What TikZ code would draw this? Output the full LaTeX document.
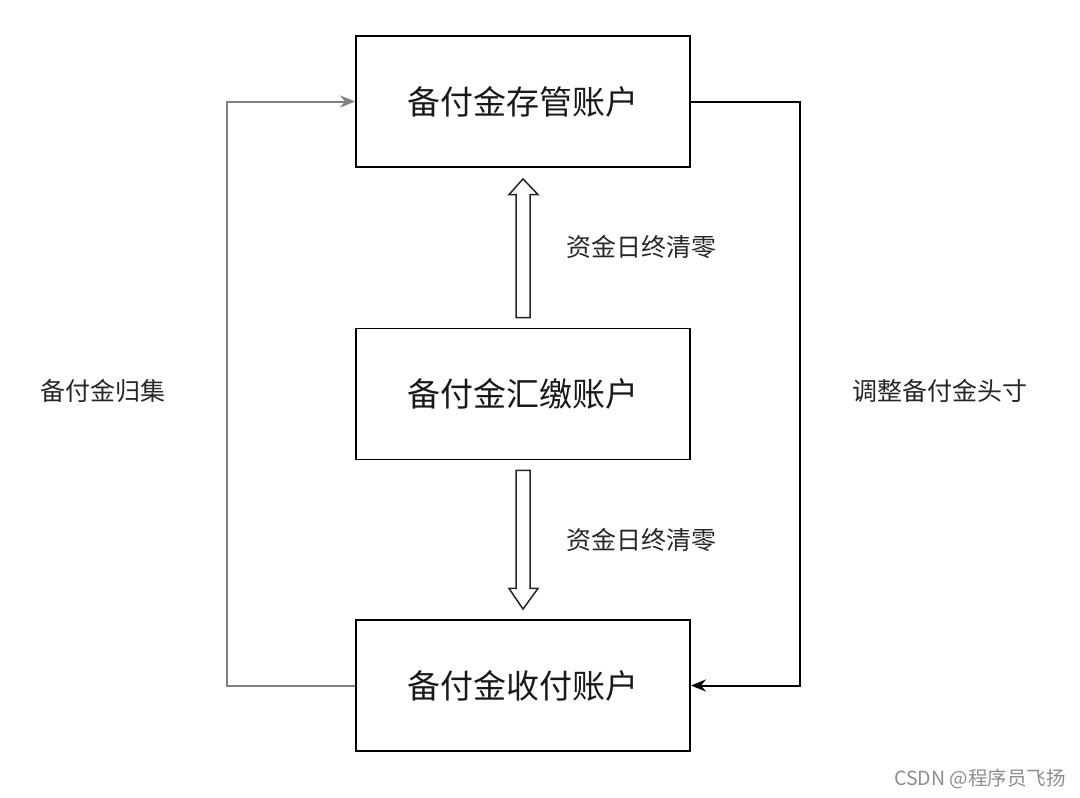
\documentclass[tikz,border=0pt]{standalone}
\usepackage{fontspec}
\setmainfont{Noto Sans CJK SC}
\usetikzlibrary{arrows.meta,calc}
\begin{document}
\begin{tikzpicture}[x=1pt,y=-1pt,
  acct/.style={draw=black,line width=1.8pt,minimum width=334pt,minimum height=131pt,inner sep=0pt,font=\fontsize{33}{36}\selectfont,text=black!90},
  lbl/.style={font=\fontsize{25}{28}\selectfont,text=black!85,inner sep=0pt},
  blockarrow/.style={draw=black!85,line width=1.5pt,fill=white,line join=miter},
  grayline/.style={draw=black!50,line width=2pt,-{Stealth[length=15pt,width=12pt]}},
  blackline/.style={draw=black,line width=2pt,-{Stealth[length=15pt,width=12pt]}}]
\useasboundingbox (0,0) rectangle (1080,798);
\node[acct] (top) at (523,101.5) {备付金存管账户};
\node[acct] (mid) at (523,394) {备付金汇缴账户};
\node[acct] (bot) at (523,685.5) {备付金收付账户};
% up block arrow
\draw[blockarrow] ($(mid.north)+(-7,-10)$) -- ++(0,-123) -- ++(-7,0) -- ($(top.south)+(0,11)$) -- ($(mid.north)+(15,-133)$) -- ++(-8,0) -- ($(mid.north)+(7,-10)$) -- cycle;
% down block arrow
\draw[blockarrow] ($(mid.south)+(-7,10)$) -- ++(0,118) -- ++(-7,0) -- ($(bot.north)+(0,-10)$) -- ($(mid.south)+(15,128)$) -- ++(-8,0) -- ($(mid.south)+(7,10)$) -- cycle;
\node[lbl] (l1) at (641,247) {资金日终清零};
\node[lbl] (l2) at (641,540) {资金日终清零};
% side connectors
\coordinate (lc1) at (227,685.5);
\coordinate (lc2) at (227,101.5);
\coordinate (rc1) at (800,101.5);
\coordinate (rc2) at (800,685.5);
\draw[grayline] (bot.west) -- (lc1) -- (lc2) -- (top.west);
\draw[blackline] (top.east) -- (rc1) -- (rc2) -- (bot.east);
\node[lbl] (ll) at (103,391) {备付金归集};
\node[lbl] (rl) at (940,391) {调整备付金头寸};
\node[font=\fontsize{19.5}{22}\selectfont,text=black!45,inner sep=0pt,anchor=east] (wm) at (1066,779) {CSDN @程序员飞扬};
\end{tikzpicture}
\end{document}
